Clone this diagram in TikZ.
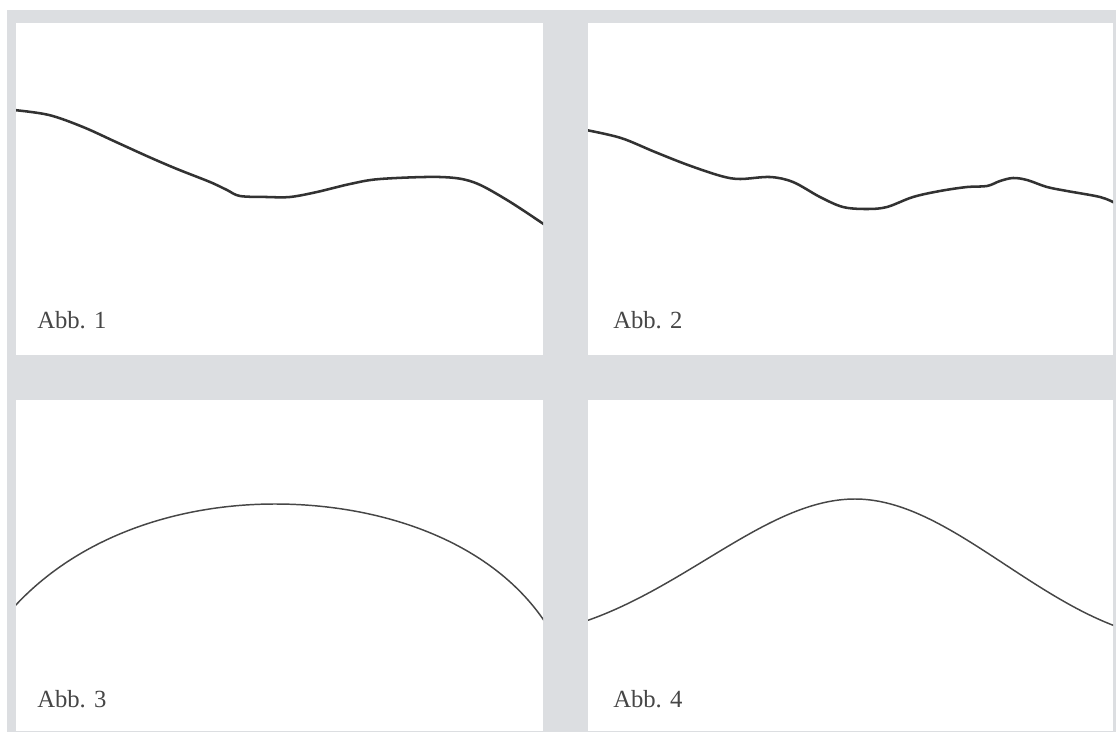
\documentclass[tikz,border=0pt]{standalone}
\usepackage{fontspec}
\setmainfont{Liberation Serif}
\definecolor{frame}{RGB}{220,222,225}
\definecolor{ink}{RGB}{50,50,50}
\definecolor{ink2}{RGB}{70,70,70}
\definecolor{lbl}{RGB}{70,70,70}
\begin{document}
\begin{tikzpicture}[x=0.75pt,y=-0.75pt,
  panel/.style={fill=white,draw=none},
  thick curve/.style={draw=ink,line width=1.9pt,line cap=round,line join=round},
  thin curve/.style={draw=ink2,line width=1.1pt,line cap=round,line join=round},
  lab/.style={anchor=base west,inner sep=0pt,text=lbl,font=\fontsize{18.5pt}{21pt}\selectfont}]
\useasboundingbox (0,0) rectangle (1118,732);
\fill[white] (0,0) rectangle (1118,732);
\fill[frame] (7,10) rectangle (1116,732);
\fill[panel] (16,23) rectangle (543,355);
\fill[panel] (588,23) rectangle (1113,355);
\fill[panel] (16,400) rectangle (543,731);
\fill[panel] (588,400) rectangle (1113,731);
% Abb. 1
\begin{scope}
\clip (16,23) rectangle (543,355);
\draw[thick curve] plot[smooth,tension=0.55] coordinates {(14,110) (49,115) (83,127) (116,142) (149,157) (177,169) (210,182) (227,190) (240,196) (267,197) (290,197) (317,192) (350,184) (380,179) (440,177) (473,182) (507,200) (545,225)};
\end{scope}
% Abb. 2
\begin{scope}
\clip (588,23) rectangle (1113,355);
\draw[thick curve] plot[smooth,tension=0.55] coordinates {(586,130) (621,138) (655,152) (688,165) (721,176) (740,179) (770,177) (793,182) (820,197) (843,207) (867,209) (887,207) (913,197) (940,191) (967,187) (987,186) (1000,181) (1013,178) (1027,180) (1047,187) (1067,191) (1100,197) (1115,203)};
\end{scope}
% Abb. 3
\begin{scope}
\clip (16,400) rectangle (543,731);
\draw[thin curve] (14,607) .. controls (80,535) and (180,504) .. (275,504) .. controls (380,504) and (490,540) .. (545,622);
\end{scope}
% Abb. 4
\begin{scope}
\clip (588,400) rectangle (1113,731);
\draw[thin curve] (586,621) .. controls (690,585) and (770,499) .. (855,499) .. controls (940,499) and (1020,590) .. (1115,626);
\end{scope}
\node[lab] (l1) at (37,328) {Abb. 1};
\node[lab] (l2) at (613,328) {Abb. 2};
\node[lab] (l3) at (37,707) {Abb. 3};
\node[lab] (l4) at (613,707) {Abb. 4};
\end{tikzpicture}
\end{document}
